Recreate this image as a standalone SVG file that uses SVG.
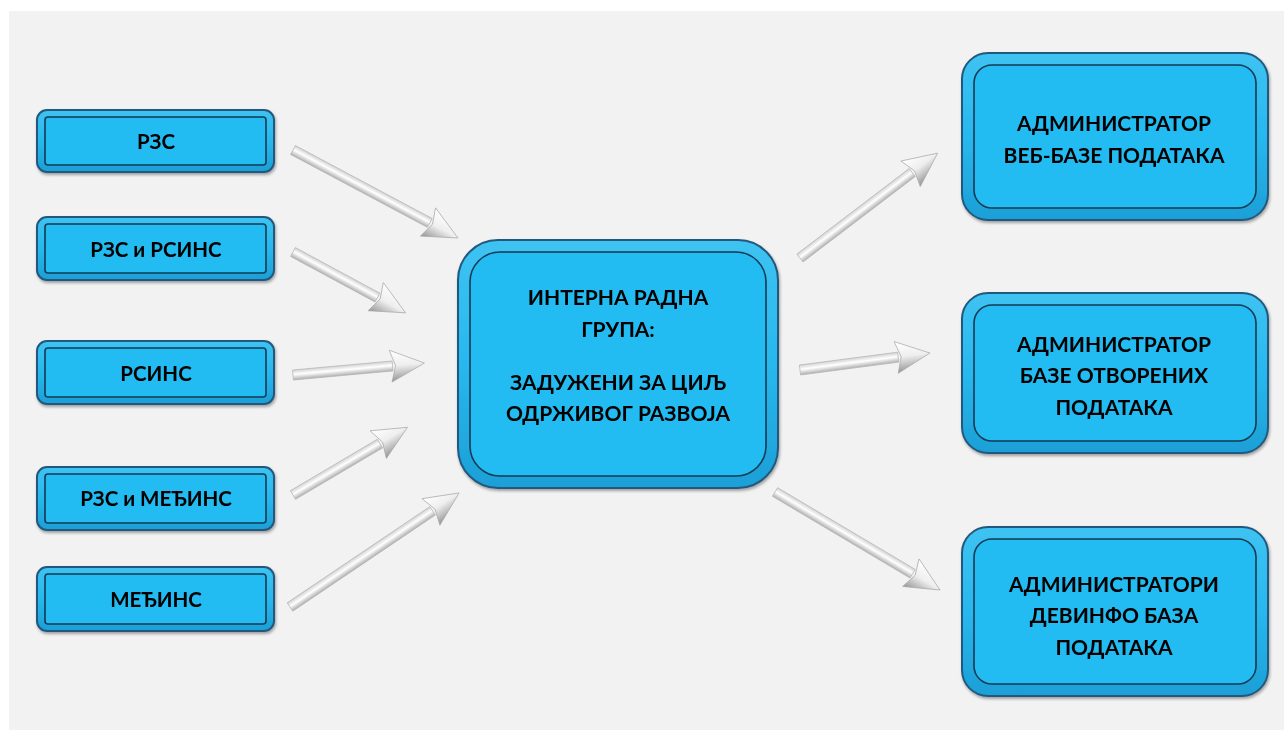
<svg xmlns="http://www.w3.org/2000/svg" width="1284" height="731" viewBox="0 0 1284 731">
<defs>
<style>
.lbl{font-family:Lato,"Open Sans","Liberation Sans",sans-serif;font-weight:bold;font-size:20.5px;fill:#000;text-anchor:middle;dominant-baseline:central}
.big{font-size:21px}
.outer{fill:url(#blueEdge);stroke:#24597d;stroke-width:2}
.inner{fill:#23bbf2;stroke:#163a52;stroke-width:1.6}
.shaft{fill:url(#shaftG);stroke:#b4b4b4;stroke-width:0.7}
.head{fill:url(#headG);stroke:#a8a8a8;stroke-width:0.7}
</style>
<linearGradient id="blueEdge" x1="0" y1="0" x2="0" y2="1">
<stop offset="0" stop-color="#3ec3f2"/>
<stop offset="0.5" stop-color="#27b8ee"/>
<stop offset="1" stop-color="#1c9fd6"/>
</linearGradient>
<linearGradient id="shaftG" gradientUnits="userSpaceOnUse" x1="0" y1="-5" x2="0" y2="5">
<stop offset="0" stop-color="#d2d2d2"/>
<stop offset="0.45" stop-color="#ffffff"/>
<stop offset="1" stop-color="#b0b0b0"/>
</linearGradient>
<linearGradient id="headG" gradientUnits="userSpaceOnUse" x1="0" y1="-15" x2="0" y2="15">
<stop offset="0" stop-color="#ffffff"/>
<stop offset="0.5" stop-color="#eeeeee"/>
<stop offset="1" stop-color="#9a9a9a"/>
</linearGradient>
<filter id="sh" x="-10%" y="-10%" width="120%" height="130%">
<feGaussianBlur in="SourceAlpha" stdDeviation="1.5"/>
<feOffset dx="1" dy="2"/>
<feComponentTransfer><feFuncA type="linear" slope="0.35"/></feComponentTransfer>
<feMerge><feMergeNode/><feMergeNode in="SourceGraphic"/></feMerge>
</filter>
</defs>
<rect x="0" y="0" width="1284" height="731" fill="#ffffff"/>
<rect x="9" y="11" width="1275" height="719" fill="#f2f2f2"/>

<g id="connectors">
<g transform="translate(293,150) rotate(28.07)"><polygon class="shaft" points="0,-5 155,-5 155,5 0,5"/><polygon class="head" points="153,-16 187,0 153,16 158,0"/></g>
<g transform="translate(293,252) rotate(28.37)"><polygon class="shaft" points="0,-5 96,-5 96,5 0,5"/><polygon class="head" points="94,-16 128,0 94,16 99,0"/></g>
<g transform="translate(293,375) rotate(-5.19)"><polygon class="shaft" points="0,-5 100,-5 100,5 0,5"/><polygon class="head" points="98,-16 132,0 98,16 103,0"/></g>
<g transform="translate(293,495) rotate(-30.6)"><polygon class="shaft" points="0,-5 101,-5 101,5 0,5"/><polygon class="head" points="99,-16 133,0 99,16 104,0"/></g>
<g transform="translate(290,607) rotate(-34.0)"><polygon class="shaft" points="0,-5 172,-5 172,5 0,5"/><polygon class="head" points="170,-16 204,0 170,16 175,0"/></g>
<g transform="translate(800,258) rotate(-37.3)"><polygon class="shaft" points="0,-5 141,-5 141,5 0,5"/><polygon class="head" points="139,-16 173,0 139,16 144,0"/></g>
<g transform="translate(800,370) rotate(-7.45)"><polygon class="shaft" points="0,-5 99,-5 99,5 0,5"/><polygon class="head" points="97,-16 131,0 97,16 102,0"/></g>
<g transform="translate(775,492) rotate(30.7)"><polygon class="shaft" points="0,-5 160,-5 160,5 0,5"/><polygon class="head" points="158,-16 192,0 158,16 163,0"/></g>
</g>

<g id="n-rzs" filter="url(#sh)">
<rect class="outer" x="37" y="110" width="237" height="62" rx="10"/>
<rect class="inner" x="45" y="117" width="221" height="48" rx="3"/>
<text class="lbl" x="156" y="141">РЗС</text>
</g>
<g id="n-rzs-rsins" filter="url(#sh)">
<rect class="outer" x="37" y="217" width="237" height="63" rx="10"/>
<rect class="inner" x="45" y="224" width="221" height="49" rx="3"/>
<text class="lbl" x="156" y="249">РЗС и РСИНС</text>
</g>
<g id="n-rsins" filter="url(#sh)">
<rect class="outer" x="37" y="341" width="237" height="63" rx="10"/>
<rect class="inner" x="45" y="348" width="221" height="49" rx="3"/>
<text class="lbl" x="156" y="373">РСИНС</text>
</g>
<g id="n-rzs-medjins" filter="url(#sh)">
<rect class="outer" x="37" y="467" width="237" height="63" rx="10"/>
<rect class="inner" x="45" y="474" width="221" height="49" rx="3"/>
<text class="lbl" x="156" y="498">РЗС и МЕЂИНС</text>
</g>
<g id="n-medjins" filter="url(#sh)">
<rect class="outer" x="37" y="567" width="237" height="64" rx="10"/>
<rect class="inner" x="45" y="574" width="221" height="50" rx="3"/>
<text class="lbl" x="156" y="599">МЕЂИНС</text>
</g>

<g id="n-center" filter="url(#sh)">
<rect class="outer" x="458" y="240" width="320" height="248" rx="40"/>
<rect class="inner" x="470" y="252" width="296" height="224" rx="30"/>
<text class="lbl big" x="618" y="296">ИНТЕРНА РАДНА</text>
<text class="lbl big" x="618" y="328">ГРУПА:</text>
<text class="lbl big" x="618" y="381">ЗАДУЖЕНИ ЗА ЦИЉ</text>
<text class="lbl big" x="618" y="412">ОДРЖИВОГ РАЗВОЈА</text>
</g>

<g id="n-web" filter="url(#sh)">
<rect class="outer" x="962" y="53" width="306" height="167" rx="26"/>
<rect class="inner" x="974" y="65" width="282" height="143" rx="18"/>
<text class="lbl big" x="1114" y="122">АДМИНИСТРАТОР</text>
<text class="lbl big" x="1114" y="154">ВЕБ-БАЗЕ ПОДАТАКА</text>
</g>
<g id="n-open" filter="url(#sh)">
<rect class="outer" x="962" y="293" width="306" height="160" rx="26"/>
<rect class="inner" x="974" y="305" width="282" height="136" rx="18"/>
<text class="lbl big" x="1114" y="343">АДМИНИСТРАТОР</text>
<text class="lbl big" x="1114" y="374">БАЗЕ ОТВОРЕНИХ</text>
<text class="lbl big" x="1114" y="406">ПОДАТАКА</text>
</g>
<g id="n-devinfo" filter="url(#sh)">
<rect class="outer" x="962" y="527" width="306" height="169" rx="26"/>
<rect class="inner" x="974" y="539" width="282" height="145" rx="18"/>
<text class="lbl big" x="1114" y="583">АДМИНИСТРАТОРИ</text>
<text class="lbl big" x="1114" y="614">ДЕВИНФО БАЗА</text>
<text class="lbl big" x="1114" y="646">ПОДАТАКА</text>
</g>
</svg>
